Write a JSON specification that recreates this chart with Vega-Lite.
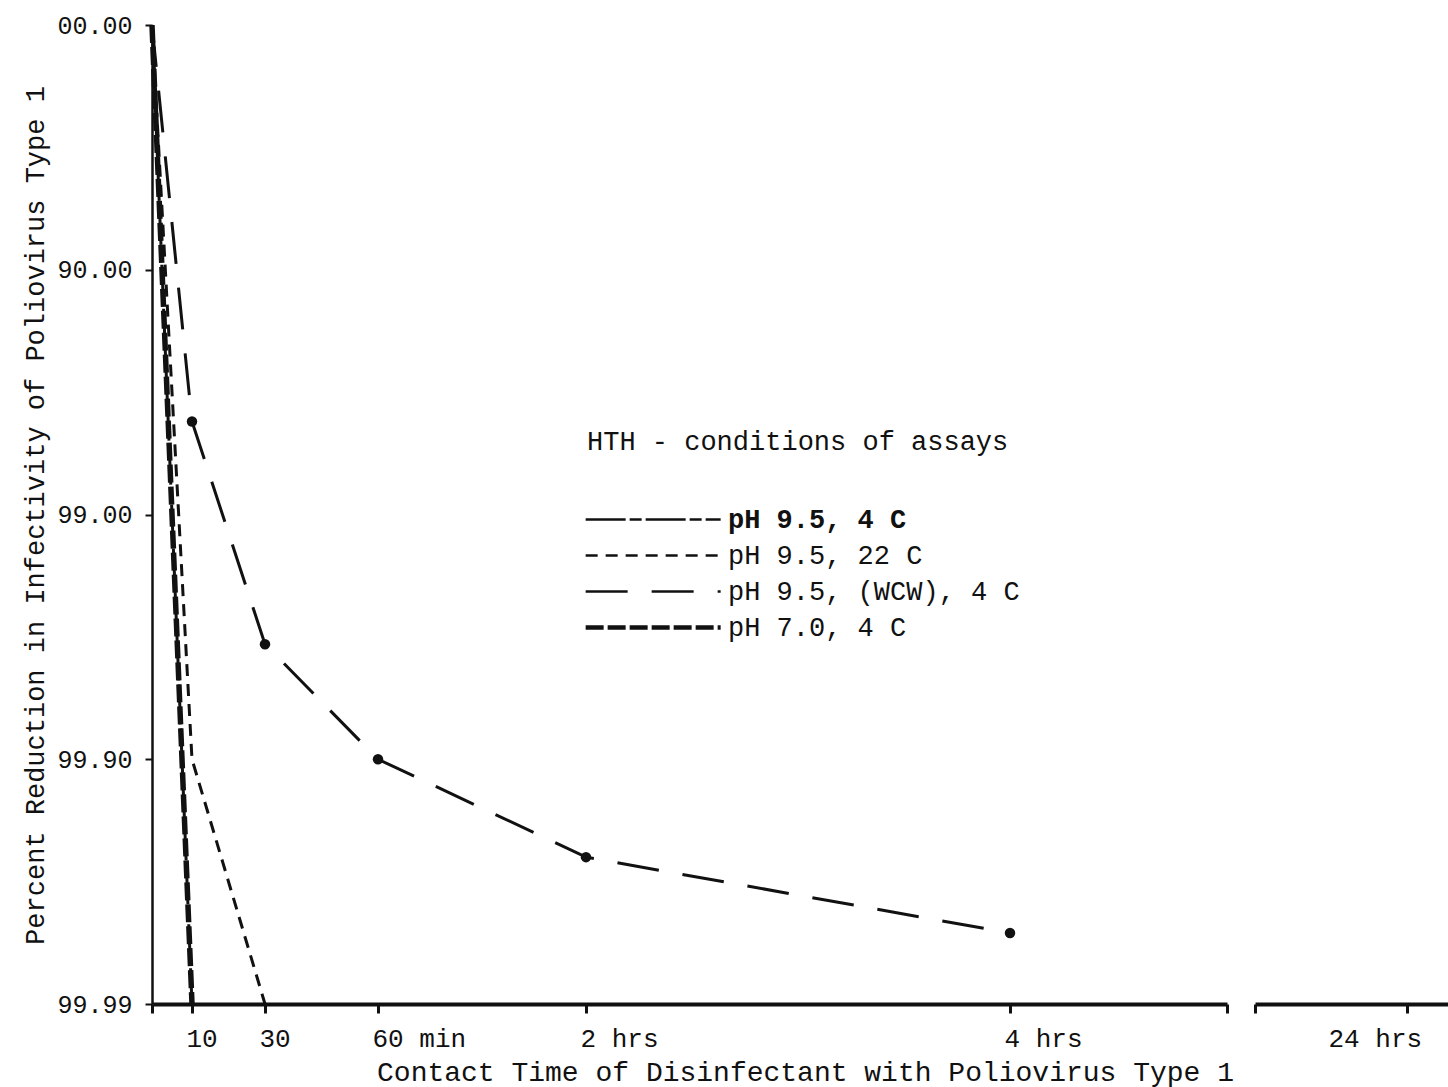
{
  "$schema": "https://vega.github.io/schema/vega-lite/v6.json",
  "width": 1296,
  "height": 979,
  "autosize": {"type": "none"},
  "padding": {"left": 152, "top": 25, "right": 0, "bottom": 83},
  "background": "white",
  "config": {
    "view": {"stroke": null},
    "font": "Liberation Mono",
    "axis": {
      "grid": false,
      "domainColor": "#111",
      "tickColor": "#111",
      "labelColor": "#111",
      "titleColor": "#111",
      "labelFont": "Liberation Mono",
      "titleFont": "Liberation Mono",
      "titleFontWeight": "normal"
    }
  },
  "data": {
    "values": [
      {"series": "pH 9.5, 4 C", "t": 0, "r": 0},
      {"series": "pH 9.5, 4 C", "t": 10, "r": 4},
      {"series": "pH 9.5, 22 C", "t": 0, "r": 0},
      {"series": "pH 9.5, 22 C", "t": 10, "r": 3},
      {"series": "pH 9.5, 22 C", "t": 30, "r": 4},
      {"series": "pH 9.5, (WCW), 4 C", "t": 0, "r": 0},
      {"series": "pH 9.5, (WCW), 4 C", "t": 10, "r": 1.62},
      {"series": "pH 9.5, (WCW), 4 C", "t": 30, "r": 2.53},
      {"series": "pH 9.5, (WCW), 4 C", "t": 60, "r": 3.0},
      {"series": "pH 9.5, (WCW), 4 C", "t": 120, "r": 3.4},
      {"series": "pH 9.5, (WCW), 4 C", "t": 240, "r": 3.71},
      {"series": "pH 7.0, 4 C", "t": 0, "r": 0},
      {"series": "pH 7.0, 4 C", "t": 10, "r": 4}
    ]
  },
  "encoding": {
    "x": {
      "field": "t",
      "type": "quantitative",
      "scale": {
        "domain": [0, 10, 30, 60, 120, 240, 300, 1300, 1440, 1480],
        "range": [0, 40, 113, 226, 434, 858, 1075, 1103, 1255, 1296],
        "nice": false,
        "zero": false
      },
      "axis": {
        "title": "Contact Time of Disinfectant with Poliovirus Type 1",
        "values": [0, 10, 30, 60, 120, 240, 300, 1300, 1440],
        "labelExpr": "datum.value == 10 ? '10' : datum.value == 30 ? '30' : datum.value == 60 ? '60 min' : datum.value == 120 ? '2 hrs' : datum.value == 240 ? '4 hrs' : datum.value == 1440 ? '24 hrs' : ''",
        "labelOverlap": false,
        "labelFlush": false,
        "labelAlign": "left",
        "labelOffset": {"condition": {"test": "datum.value === 1440", "value": -79}, "value": -6},
        "labelFontSize": 26,
        "labelPadding": 12,
        "tickSize": 9,
        "tickWidth": 3,
        "domainWidth": 4,
        "domainDash": [1075, 28, 400],
        "titleFontSize": 28,
        "titleX": 653,
        "titleY": 76,
        "titleAlign": "center",
        "titleBaseline": "alphabetic"
      }
    },
    "y": {
      "field": "r",
      "type": "quantitative",
      "scale": {"domain": [0, 4], "reverse": true, "nice": false, "zero": false},
      "axis": {
        "title": "Percent Reduction in Infectivity of Poliovirus Type 1",
        "values": [0, 1, 2, 3, 4],
        "labelExpr": "['00.00', '90.00', '99.00', '99.90', '99.99'][datum.value]",
        "labelFontSize": 25,
        "labelPadding": 13,
        "tickSize": 7,
        "tickWidth": 2,
        "domainWidth": 2.5,
        "titleFontSize": 27,
        "titleAngle": 270,
        "titleX": -117,
        "titleY": 490,
        "titleAlign": "center",
        "titleBaseline": "middle"
      }
    },
    "strokeDash": {
      "field": "series",
      "type": "nominal",
      "scale": {
        "domain": ["pH 9.5, 4 C", "pH 9.5, 22 C", "pH 9.5, (WCW), 4 C", "pH 7.0, 4 C"],
        "range": [[40, 4, 12, 4], [12, 8], [42, 24], [18, 4]]
      },
      "legend": {
        "orient": "none",
        "legendX": 435,
        "legendY": 404,
        "padding": 0,
        "title": "HTH - conditions of assays",
        "titleFont": "Liberation Mono",
        "titleFontSize": 27,
        "titleFontWeight": "normal",
        "titleColor": "#111",
        "titlePadding": 50,
        "titleLimit": 800,
        "labelFont": "Liberation Mono",
        "labelFontSize": 27,
        "labelColor": "#111",
        "labelLimit": 800,
        "labelOffset": 114,
        "rowPadding": 8,
        "symbolType": "M-1.1,0H8.9",
        "symbolSize": 729,
        "symbolStrokeColor": "#111",
        "symbolStrokeWidth": 2.5,
        "encode": {
          "labels": {"update": {"fontWeight": {"signal": "datum.value === 'pH 9.5, 4 C' ? 'bold' : 'normal'"}}},
          "symbols": {"update": {"strokeWidth": {"signal": "datum.value === 'pH 7.0, 4 C' ? 4.5 : 2.5"}}}
        }
      }
    }
  },
  "layer": [
    {
      "transform": [{"filter": "datum.series !== 'pH 7.0, 4 C'"}],
      "mark": {"type": "line", "color": "#111", "strokeCap": "butt", "strokeWidth": 3}
    },
    {
      "transform": [{"filter": "datum.series === 'pH 7.0, 4 C'"}],
      "mark": {"type": "line", "color": "#111", "strokeCap": "butt", "strokeWidth": 5.5}
    },
    {
      "transform": [{"filter": "datum.series === 'pH 9.5, (WCW), 4 C' && datum.t > 0"}],
      "mark": {"type": "point", "filled": true, "color": "#111", "size": 110, "opacity": 1},
      "encoding": {"strokeDash": {"value": [1, 0]}}
    }
  ]
}
